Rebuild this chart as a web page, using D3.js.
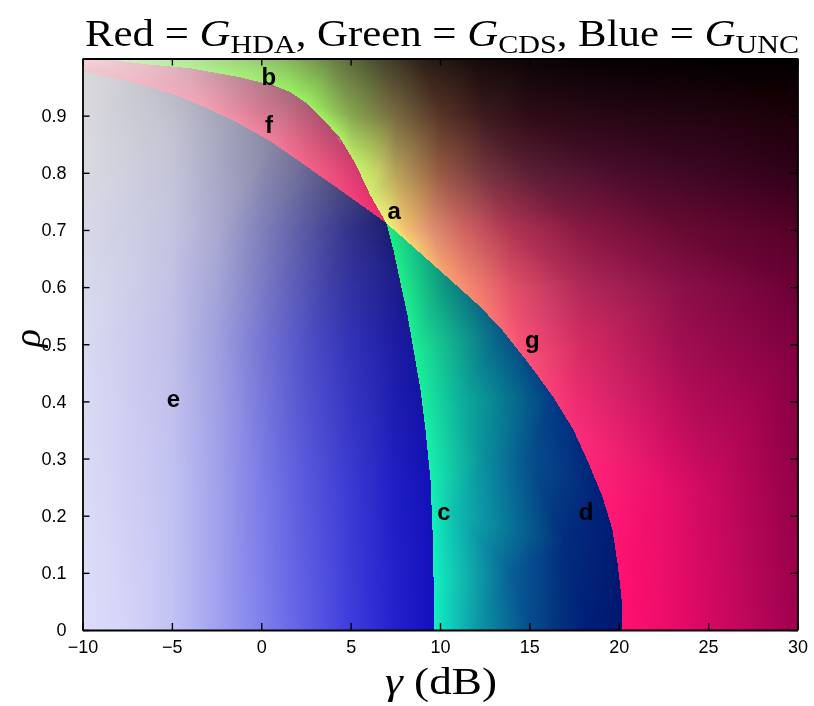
<!DOCTYPE html>
<html>
<head>
<meta charset="utf-8">
<script src="https://cdn.jsdelivr.net/npm/d3@7"></script>
<style>
  body { margin: 0; background: #fff; }
  #chart { position: relative; width: 814px; height: 706px; }
  #chart canvas, #chart svg { position: absolute; left: 0; top: 0; }
</style>
</head>
<body>
<div id="chart"></div>
<script>
// Region boundaries, [gamma (dB), rho]
const curveB = [[-9, 1], [-6.48, 0.990], [-3.96, 0.983], [-1.16, 0.967], [0.69, 0.953], [1.64, 0.941],
  [2.59, 0.921], [3.48, 0.893], [4.43, 0.860], [5.27, 0.816], [6.11, 0.760], [7.0, 0.712]];
const curveF = [[-10, 0.977], [-8.38, 0.967], [-6.92, 0.956], [-5.08, 0.939], [-3.23, 0.916], [-1.33, 0.888],
  [0.52, 0.855], [2.36, 0.815], [4.27, 0.773], [7.0, 0.712]];
const curveC = [[7.0, 0.712], [7.40, 0.664], [7.79, 0.607], [8.18, 0.551], [8.52, 0.490], [8.91, 0.420],
  [9.19, 0.350], [9.47, 0.262], [9.58, 0.175], [9.64, 0.087], [9.65, 0]];
const curveG = [[7.0, 0.712], [8.52, 0.670], [10.42, 0.617], [12.27, 0.565], [13.50, 0.524], [14.95, 0.467],
  [16.35, 0.407], [17.47, 0.350], [18.31, 0.292], [19.09, 0.233], [19.65, 0.175], [19.93, 0.117],
  [20.15, 0.058], [20.21, 0]];

// Colour samples inside each region, [gamma, rho, colour]
const anchorsE = [
  [-10, 0, '#dddcfa'], [-7.5, 0, '#d4d4f8'], [-5, 0, '#c2c2f4'], [-2.5, 0, '#a2a2f0'], [0, 0, '#8080ee'],
  [2.5, 0, '#5e5ee6'], [5, 0, '#3e3cdc'], [7.5, 0, '#2420cc'], [9.65, 0, '#1410c0'],
  [-10, 0.25, '#dcdcf6'], [-5, 0.25, '#c2c2f2'], [-2.5, 0.25, '#a2a2ec'], [0, 0.25, '#7c7ce8'],
  [2.5, 0.25, '#5858de'], [5, 0.25, '#3a3ad2'], [7.5, 0.25, '#1e1ec4'], [9.45, 0.25, '#1212b8'],
  [-10, 0.5, '#dadaf2'], [-5, 0.5, '#c0c0ea'], [-2.5, 0.5, '#a0a0e0'], [0, 0.5, '#7676d4'],
  [2.5, 0.5, '#5050c8'], [5, 0.5, '#3232b8'], [7.5, 0.5, '#1c1ca4'], [8.52, 0.49, '#16169c'],
  [-10, 0.7, '#d8d8e8'], [-5, 0.7, '#c4c4e0'], [-2.5, 0.7, '#aaaad0'], [0, 0.7, '#8080bc'],
  [2.5, 0.7, '#5858a4'], [5, 0.7, '#32328a'], [7.79, 0.607, '#1a1a88'],
  [-10, 0.85, '#dadae0'], [-5, 0.85, '#c4c4d4'],
  [-10, 0.977, '#d8d8dc'], [-8.38, 0.967, '#d2d2d8'], [-6.92, 0.956, '#c8c8d2'], [-5.08, 0.939, '#bcbcc8'],
  [-3.23, 0.916, '#aeaec0'], [-1.33, 0.888, '#9c9cb4'], [0.52, 0.855, '#8888a4'], [2.36, 0.815, '#6c6c94'],
  [4.27, 0.773, '#4a4a80'], [7.0, 0.712, '#1e1e6e']
];
const anchorsF = [
  [-10, 0.977, '#f0c8d0'], [-6.92, 0.956, '#f2b8c4'], [-3.23, 0.916, '#f2a2b4'], [0.52, 0.855, '#f27e9a'],
  [2.36, 0.815, '#f26688'], [4.27, 0.773, '#f24c7e'], [7.0, 0.712, '#f02870'],
  [-10, 1, '#f4d6da'], [-9, 1, '#f2d0d6'], [-6.48, 0.99, '#e8c0c8'], [-3.96, 0.983, '#d8aab6'],
  [-1.16, 0.967, '#c08898'], [1.64, 0.941, '#a86a7c'], [3.48, 0.893, '#b05072'], [5.27, 0.816, '#d03a70'],
  [6.11, 0.76, '#e23070'],
  [-8, 0.98, '#eec4cc'], [-4, 0.955, '#e4a8b8'], [0, 0.91, '#d47890'], [3, 0.855, '#d45878'],
  [5, 0.795, '#e04076'], [6.2, 0.742, '#ea3272']
];
const anchorsT = [
  [9.65, 0, '#14f0c4'], [9.64, 0.087, '#14f0c0'], [9.58, 0.175, '#14f0ba'], [9.47, 0.262, '#16f0b0'],
  [9.19, 0.35, '#18f0a4'], [8.52, 0.49, '#1cf094'], [7.79, 0.607, '#1ef088'], [7.0, 0.712, '#20ec80'],
  [10.5, 0, '#10d0bc'], [12, 0, '#0c9ca8'], [13.5, 0, '#0a7498'], [15, 0, '#064c90'], [16.5, 0, '#04347f'],
  [18.2, 0, '#001e78'], [20.21, 0, '#001870'],
  [8.52, 0.67, '#14c488'], [10.42, 0.617, '#0c8c80'], [12.27, 0.565, '#0a6a84'], [13.5, 0.524, '#065886'],
  [14.95, 0.467, '#044888'], [16.35, 0.407, '#023a84'], [17.47, 0.35, '#022e80'], [18.31, 0.292, '#01267c'],
  [19.09, 0.233, '#011f78'], [19.65, 0.175, '#001c76'], [20.15, 0.058, '#001870'],
  [11, 0.4, '#0eb49c'], [11, 0.2, '#0eb8b0'], [12.5, 0.3, '#0a8e9c'], [15, 0.3, '#06508c'],
  [14, 0.1, '#085e96'], [17, 0.15, '#022c7c']
];
const anchorsD = [
  [-9, 1, '#d4f2c8'], [-6.48, 0.99, '#c4f0b0'], [-3.96, 0.983, '#b4f096'], [-1.16, 0.967, '#a4f078'],
  [0.69, 0.953, '#9cf068'], [1.64, 0.941, '#9af062'], [2.59, 0.921, '#9cf060'], [3.48, 0.893, '#a4f060'],
  [4.43, 0.86, '#b0f064'], [5.27, 0.816, '#c0f068'], [6.11, 0.76, '#d4f070'], [7.0, 0.712, '#f0f078'],
  [-6.5, 1, '#c8eeb4'], [-4, 1, '#b8e49c'], [-1, 1, '#a0d07c'], [1.5, 1, '#88b460'], [4, 1, '#6a7e46'],
  [6.5, 1, '#4a4a30'], [9, 1, '#2c1e16'], [12, 1, '#160a0a'], [15, 1, '#0c0406'], [20, 1, '#050002'],
  [25, 1, '#020000'], [30, 1, '#000000'],
  [5, 0.9, '#88a850'], [7.5, 0.9, '#786a40'], [10, 0.9, '#583428'], [12.5, 0.9, '#3c1a1c'],
  [15, 0.9, '#2e0c16'], [20, 0.9, '#260614'], [25, 0.9, '#220410'], [30, 0.9, '#1c0008'],
  [6.5, 0.8, '#c8d466'], [7.5, 0.8, '#b8a45c'], [10, 0.8, '#985a44'], [12.5, 0.8, '#743440'],
  [15, 0.8, '#5c1e36'], [20, 0.8, '#4a0c2c'], [25, 0.8, '#3c0622'], [30, 0.8, '#300018'],
  [8, 0.7, '#f4c470'], [9.5, 0.7, '#e09070'], [11.3, 0.7, '#d06462'], [14, 0.7, '#b03452'],
  [18, 0.7, '#881842'], [23.5, 0.7, '#680a32'], [30, 0.7, '#560028'],
  [11.5, 0.6, '#f48a70'], [14, 0.6, '#e05068'], [18, 0.6, '#b02858'], [23.5, 0.6, '#8a1048'], [30, 0.6, '#6c0036'],
  [14.5, 0.5, '#f85078'], [18, 0.5, '#d42a62'], [23.5, 0.5, '#a00e50'], [30, 0.5, '#800040'],
  [19.5, 0.25, '#fc1c74'], [22.5, 0.25, '#e8106a'], [25, 0.25, '#cc0a60'], [30, 0.25, '#940048'],
  [20.21, 0, '#ff1070'], [22.5, 0, '#f00c6a'], [25, 0, '#d60862'], [27.5, 0, '#ba065a'], [30, 0, '#a00050'],
  [8.52, 0.67, '#f8d070'], [10.42, 0.617, '#f8a070'], [12.27, 0.565, '#f88070'], [13.5, 0.524, '#f86874'],
  [14.95, 0.467, '#f85078'], [16.35, 0.407, '#f83c78'], [17.47, 0.35, '#fa2e78'], [18.31, 0.292, '#fc2476'],
  [19.09, 0.233, '#fc1c74'], [19.65, 0.175, '#fe1672'], [20.15, 0.058, '#ff1070']
];

const gammaTicks = [-10, -5, 0, 5, 10, 15, 20, 25, 30];
const rhoTicks = [0, 0.1, 0.2, 0.3, 0.4, 0.5, 0.6, 0.7, 0.8, 0.9];
const regionLabels = [
  { t: 'a', g: 7.43, r: 0.719 }, { t: 'b', g: 0.43, r: 0.954 }, { t: 'c', g: 10.22, r: 0.192 },
  { t: 'd', g: 18.17, r: 0.192 }, { t: 'e', g: -4.91, r: 0.390 }, { t: 'f', g: 0.43, r: 0.870 },
  { t: 'g', g: 15.17, r: 0.493 }
];
const titleParts = [['Red = ', 'HDA'], [', Green = ', 'CDS'], [', Blue = ', 'UNC']];

const W = 814, H = 706;
const x = d3.scaleLinear().domain([-10, 30]).range([82.5, 797.5]);
const y = d3.scaleLinear().domain([0, 1]).range([630, 58.5]);

const polyE = [[-10, 0], ...curveC.slice().reverse(), ...curveF.slice().reverse()];
const polyF = [...curveF, ...curveB.slice().reverse(), [-10, 1]];
const polyT = [...curveG.slice().reverse(), ...curveC];

const canvas = d3.select('#chart').append('canvas').attr('width', W).attr('height', H).node();
const ctx = canvas.getContext('2d');

paintField();

function paintField() {
  const x0 = Math.floor(x(-10)), x1 = Math.ceil(x(30));
  const y0 = Math.floor(y(1)), y1 = Math.ceil(y(0));
  const w = x1 - x0, h = y1 - y0;
  const img = ctx.createImageData(w, h);
  const owner = new Int8Array(w * h);
  const covered = new Uint8Array(w * h);
  const toPx = p => [x(p[0]), y(p[1])];

  // which region owns each pixel (D is whatever is left)
  const polys = [polyE, polyF, polyT].map(p => p.map(toPx));
  const boxes = polys.map(p => [d3.min(p, d => d[0]), d3.max(p, d => d[0]), d3.min(p, d => d[1]), d3.max(p, d => d[1])]);
  for (let j = 0; j < h; j++) {
    for (let i = 0; i < w; i++) {
      const sx = x0 + i + 0.5, sy = y0 + j + 0.5;
      let r = 3;
      for (let q = 0; q < 3; q++) {
        const b = boxes[q];
        if (sx < b[0] || sx > b[1] || sy < b[2] || sy > b[3]) continue;
        if (d3.polygonContains(polys[q], [sx, sy])) { r = q; break; }
      }
      owner[j * w + i] = r;
    }
  }

  [anchorsE, anchorsF, anchorsT, anchorsD].forEach((anchors, r) => {
    const pts = anchors.map(toPx);
    const cols = anchors.map(d => d3.rgb(d[2]));
    const dl = d3.Delaunay.from(pts);
    const t = dl.triangles;

    // gouraud-shade each triangle
    for (let k = 0; k < t.length; k += 3) {
      const [ax, ay] = pts[t[k]], [bx, by] = pts[t[k + 1]], [cx, cy] = pts[t[k + 2]];
      const ca = cols[t[k]], cb = cols[t[k + 1]], cc = cols[t[k + 2]];
      const det = (by - cy) * (ax - cx) + (cx - bx) * (ay - cy);
      if (Math.abs(det) < 1e-9) continue;
      const ix0 = Math.max(x0, Math.floor(Math.min(ax, bx, cx))), ix1 = Math.min(x1 - 1, Math.ceil(Math.max(ax, bx, cx)));
      const iy0 = Math.max(y0, Math.floor(Math.min(ay, by, cy))), iy1 = Math.min(y1 - 1, Math.ceil(Math.max(ay, by, cy)));
      for (let py = iy0; py <= iy1; py++) {
        for (let px = ix0; px <= ix1; px++) {
          const idx = (py - y0) * w + (px - x0);
          if (owner[idx] !== r || covered[idx]) continue;
          const sx = px + 0.5, sy = py + 0.5;
          const l1 = ((by - cy) * (sx - cx) + (cx - bx) * (sy - cy)) / det;
          const l2 = ((cy - ay) * (sx - cx) + (ax - cx) * (sy - cy)) / det;
          const l3 = 1 - l1 - l2;
          if (l1 < -1e-6 || l2 < -1e-6 || l3 < -1e-6) continue;
          img.data[idx * 4] = l1 * ca.r + l2 * cb.r + l3 * cc.r;
          img.data[idx * 4 + 1] = l1 * ca.g + l2 * cb.g + l3 * cc.g;
          img.data[idx * 4 + 2] = l1 * ca.b + l2 * cb.b + l3 * cc.b;
          img.data[idx * 4 + 3] = 255;
          covered[idx] = 1;
        }
      }
    }

    // anything outside the hull takes the nearest sample
    let hint = 0;
    for (let idx = 0; idx < w * h; idx++) {
      if (owner[idx] !== r || covered[idx]) continue;
      const i = idx % w, j = (idx - i) / w;
      hint = dl.find(x0 + i + 0.5, y0 + j + 0.5, hint);
      const c = cols[hint];
      img.data[idx * 4] = c.r; img.data[idx * 4 + 1] = c.g; img.data[idx * 4 + 2] = c.b; img.data[idx * 4 + 3] = 255;
    }
  });

  ctx.putImageData(img, x0, y0);
}

// axes, labels and title on top
const svg = d3.select('#chart').append('svg').attr('width', W).attr('height', H);
const sans = '"Liberation Sans", Arial, Helvetica, sans-serif';
const serif = '"Liberation Serif", "Times New Roman", serif';

function styleAxis(g) {
  g.attr('font-family', sans).attr('font-size', 18);
  g.select('.domain').attr('stroke', '#000').attr('stroke-width', 1.8);
  g.selectAll('.tick line').attr('stroke', '#000').attr('stroke-width', 1.4);
  g.selectAll('.tick text').attr('fill', '#000');
}

svg.append('g').attr('transform', `translate(0,${y(0)})`)
  .call(d3.axisBottom(x).tickValues(gammaTicks).tickSize(-7).tickSizeOuter(0).tickPadding(10))
  .call(styleAxis);
svg.append('g').attr('transform', `translate(0,${y(1)})`)
  .call(d3.axisTop(x).tickValues(gammaTicks).tickSize(-7).tickSizeOuter(0).tickFormat(''))
  .call(styleAxis);
svg.append('g').attr('transform', `translate(${x(-10)},0)`)
  .call(d3.axisLeft(y).tickValues(rhoTicks).tickSize(-7).tickSizeOuter(0).tickPadding(16)
    .tickFormat(d => d === 0 ? '0' : d3.format('.1f')(d)))
  .call(styleAxis);
svg.append('g').attr('transform', `translate(${x(30)},0)`)
  .call(d3.axisRight(y).tickValues(rhoTicks).tickSize(-7).tickSizeOuter(0).tickFormat(''))
  .call(styleAxis);

svg.append('g').selectAll('text')
  .data(regionLabels)
  .enter().append('text')
  .attr('x', d => x(d.g))
  .attr('y', d => y(d.r))
  .attr('text-anchor', 'middle')
  .attr('font-family', sans)
  .attr('font-weight', 'bold')
  .attr('font-size', 24)
  .text(d => d.t);

// title: Red = G_HDA, Green = G_CDS, Blue = G_UNC
const title = svg.append('text')
  .attr('x', 442).attr('y', 46)
  .attr('text-anchor', 'middle')
  .attr('font-family', serif)
  .attr('font-size', 37)
  .attr('textLength', 714)
  .attr('lengthAdjust', 'spacingAndGlyphs');
titleParts.forEach(([lead, sub], i) => {
  title.append('tspan').attr('dy', i ? -7 : 0).text(lead);
  title.append('tspan').attr('font-style', 'italic').text('G');
  title.append('tspan').attr('font-size', 26).attr('dy', 7).text(sub);
});

const xlab = svg.append('text')
  .attr('x', 441).attr('y', 694)
  .attr('text-anchor', 'middle')
  .attr('font-family', serif)
  .attr('font-size', 38)
  .attr('textLength', 112)
  .attr('lengthAdjust', 'spacingAndGlyphs');
xlab.append('tspan').attr('font-style', 'italic').text('γ');
xlab.append('tspan').text(' (dB)');

svg.append('text')
  .attr('transform', 'translate(40,338) rotate(-90)')
  .attr('text-anchor', 'middle')
  .attr('font-family', serif)
  .attr('font-style', 'italic')
  .attr('font-size', 38)
  .text('ρ');
</script>
</body>
</html>
